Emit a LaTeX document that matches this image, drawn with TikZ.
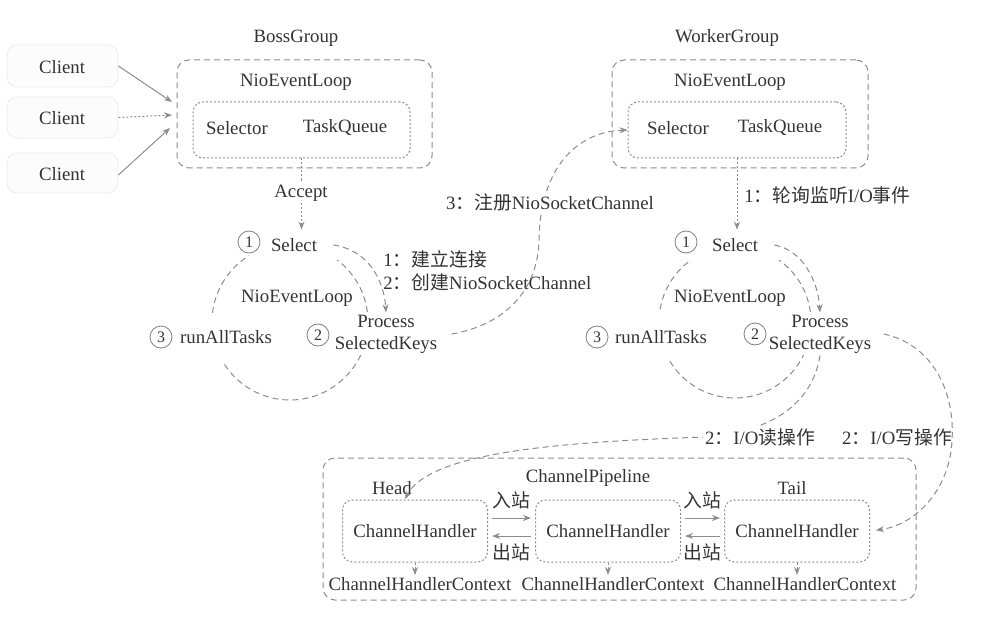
\documentclass[tikz,border=0pt]{standalone}
\usepackage{fontspec}
\setmainfont{Liberation Serif}
\newfontfamily\cjk{Noto Sans CJK SC}
\usetikzlibrary{arrows.meta,fit,calc}
\begin{document}
\begin{tikzpicture}[x=0.5pt,y=-0.5pt,
 txt/.style={font=\fontsize{9.4}{11}\selectfont, text=black!80, inner sep=1pt},
 wtxt/.style={txt, fill=white},
 grpbox/.style={draw=black!45, dash pattern=on 3pt off 2pt, rounded corners=6pt, inner sep=0pt, line width=0.5pt},
 inbox/.style={draw=black!45, dash pattern=on 1pt off 1pt, rounded corners=5pt, inner sep=0pt, line width=0.5pt},
 hbox/.style={inbox, txt, minimum width=72.5pt, minimum height=31pt},
 clbox/.style={draw=black!7, fill=black!1, rounded corners=5pt, inner sep=0pt},
 num/.style={circle, draw=black!50, inner sep=0pt, minimum size=11pt, font=\fontsize{8}{8}\selectfont, text=black!80, fill=white},
 dline/.style={draw=black!45, dash pattern=on 3pt off 2pt, line width=0.5pt},
 dotl/.style={draw=black!45, dash pattern=on 1pt off 1pt, line width=0.5pt},
 sline/.style={draw=black!45, line width=0.5pt},
 tip/.style={-{Stealth[length=4pt,width=3pt]}},
 loopc/.style={circle, draw=black!45, dash pattern=on 3pt off 2pt, line width=0.5pt, inner sep=0pt},
]
\useasboundingbox (0,0) rectangle (1004,620);

% ---------- Clients ----------
\node[clbox, fit={(7,45) (118,87)}] (cb1) {};
\node[clbox, fit={(7,97) (118,138)}] (cb2) {};
\node[clbox, fit={(7,153) (118,193)}] (cb3) {};
\node[txt] (cl1) at (62,67) {Client};
\node[txt] (cl2) at (62,118) {Client};
\node[txt] (cl3) at (62,174) {Client};
\coordinate (ca1) at (172,102);
\coordinate (ca2) at (172,115);
\coordinate (ca3) at (170,128);
\draw[sline,tip] (cb1.east) -- (ca1);
\draw[dotl,tip] (cb2.east) -- (ca2);
\draw[sline,tip] ([yshift=-1pt]cb3.east) -- (ca3);

% ---------- BossGroup ----------
\node[txt] (bossl) at (296,38) {BossGroup};
\node[grpbox, fit={(177,60) (432,168)}] (boss) {};
\node[txt] (bnel) at (296,82) {NioEventLoop};
\node[inbox, fit={(193,102) (410,158)}] (bossin) {};
\node[txt] (bsel) at (237,128) {Selector};
\node[txt] (btq) at (345,128) {TaskQueue};

% ---------- WorkerGroup ----------
\node[txt] (workl) at (727,38) {WorkerGroup};
\node[grpbox, fit={(612,60) (868,168)}] (work) {};
\node[txt] (wnel) at (730,82) {NioEventLoop};
\node[inbox, fit={(628,102) (846,158)}] (win) {};
\node[txt] (wsel) at (678,128) {Selector};
\node[txt] (wtq) at (780,128) {TaskQueue};

% ---------- Left loop ----------
\node[loopc, minimum size=78pt] (loop1) at (290,322) {};
\node[wtxt, minimum width=45pt, minimum height=15pt] (sel1) at (294,245) {Select};
\node[num] (n1a) at (249,242) {1};
\node[txt] (nel1) at (297,298) {NioEventLoop};
\node[wtxt, minimum height=24pt] (run1) at (226,337) {runAllTasks};
\node[num] (n3a) at (161,337) {3};
\node[wtxt, align=center] (proc1) at (386,334) {Process\\SelectedKeys};
\node[num] (n2a) at (318,335) {2};
\draw[dline,tip] ([xshift=-3pt]sel1.east) .. controls (368,250) and (384,280) .. (proc1.north);
\node[txt, anchor=west] (lab1) at (381,259) {1{\cjk ：建立连接}};
\node[txt, anchor=west] (lab2) at (381,282) {2{\cjk ：创建}NioSocketChannel};

% ---------- Right loop ----------
\node[loopc, minimum size=76pt] (loop2) at (735,322) {};
\node[wtxt, minimum width=45pt, minimum height=15pt] (sel2) at (735,245) {Select};
\node[num] (n1b) at (686,242) {1};
\node[txt] (nel2) at (730,298) {NioEventLoop};
\node[wtxt, minimum height=24pt] (run2) at (661,337) {runAllTasks};
\node[num] (n3b) at (597,337) {3};
\node[wtxt, align=center] (proc2) at (820,334) {Process\\SelectedKeys};
\node[num] (n2b) at (755,334) {2};
\draw[dline,tip] ([xshift=-3pt]sel2.east) .. controls (802,250) and (818,280) .. (proc2.north);

% ---------- Accept / polling ----------
\draw[dotl,tip] (bossin.south) -- (bossin.south |- sel1.north);
\node[wtxt] (acc) at (301,193) {Accept};
\draw[dotl,tip] (win.south) -- (win.south |- sel2.north);
\node[txt, anchor=west] (poll) at (742,195) {1{\cjk ：轮询监听}I/O{\cjk 事件}};

% ---------- register ----------
\draw[dline,tip] ([xshift=6pt]proc1.east) .. controls (505,325) and (538,290) .. (539,240)
   .. controls (540,170) and (575,132) .. (win.west);
\node[wtxt] (reg) at (550,202) {3{\cjk ：注册}NioSocketChannel};

% ---------- Pipeline ----------
\node[grpbox, fit={(323,458) (916,600)}] (pipe) {};
\node[txt] (pl) at (588,478) {ChannelPipeline};
\node[txt] (head) at (392,488) {Head};
\node[txt] (tail) at (792,488) {Tail};
\node[hbox] (h1) at (415,531) {ChannelHandler};
\node[hbox] (h2) at (608,531) {ChannelHandler};
\node[hbox] (h3) at (797,531) {ChannelHandler};
\node[txt] (x1) at (420,584) {ChannelHandlerContext};
\node[txt] (x2) at (613,584) {ChannelHandlerContext};
\node[txt] (x3) at (805,584) {ChannelHandlerContext};
\draw[dotl,tip] (h1.south) -- (h1.south |- x1.north);
\draw[dotl,tip] (h2.south) -- (h2.south |- x2.north);
\draw[dotl,tip] (h3.south) -- (h3.south |- x3.north);

\draw[sline,tip] ($(h1.east)+(4,-13)$) -- ($(h2.west)+(-4,-13)$);
\draw[sline,tip] ($(h2.west)+(-4,5)$) -- ($(h1.east)+(4,5)$);
\node[txt] (in1) at ($(h1.east)!0.5!(h2.west)+(0,-31)$) {\cjk 入站};
\node[txt] (out1) at ($(h1.east)!0.5!(h2.west)+(0,21)$) {\cjk 出站};
\draw[sline,tip] ($(h2.east)+(4,-13)$) -- ($(h3.west)+(-4,-13)$);
\draw[sline,tip] ($(h3.west)+(-4,5)$) -- ($(h2.east)+(4,5)$);
\node[txt] (in2) at ($(h2.east)!0.5!(h3.west)+(0,-31)$) {\cjk 入站};
\node[txt] (out2) at ($(h2.east)!0.5!(h3.west)+(0,21)$) {\cjk 出站};

% ---------- I/O read / write ----------
\coordinate (hd) at (405,499);
\draw[dline,tip] (proc2.south) .. controls (812,405) and (770,432) .. (705,437)
   .. controls (560,442) and (430,452) .. (hd);
\node[wtxt] (rd) at (760,437) {2{\cjk ：}I/O{\cjk 读操作}};
\node[txt] (wr) at (897,437) {2{\cjk ：}I/O{\cjk 写操作}};
\draw[dline,tip,shorten >=3pt] ([xshift=5pt]proc2.east) .. controls (935,345) and (955,395) .. (952,440)
   .. controls (950,490) and (915,525) .. (h3.east);
\end{tikzpicture}
\end{document}
